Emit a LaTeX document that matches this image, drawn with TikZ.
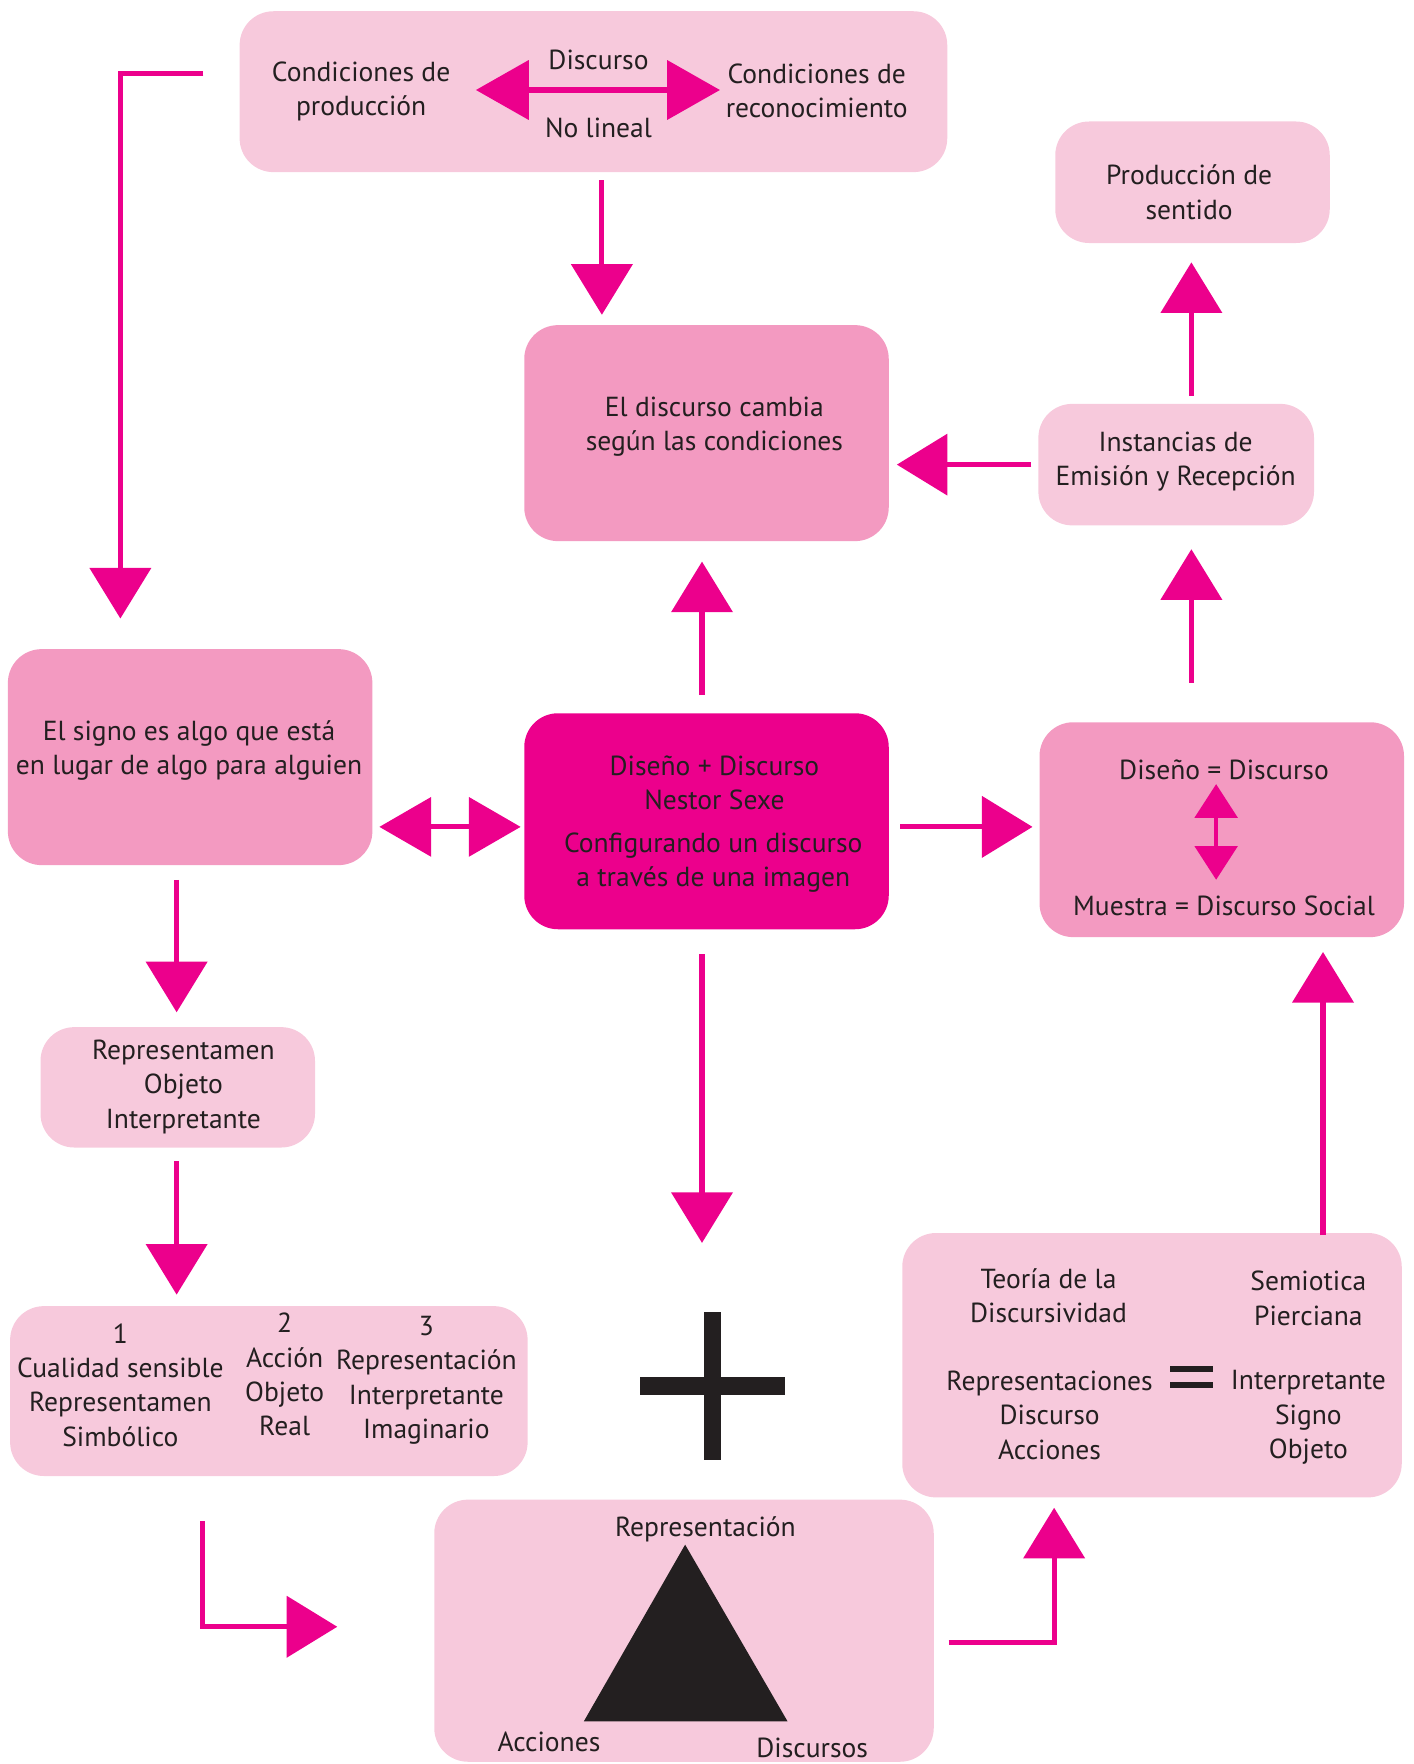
\documentclass[tikz,border=0pt]{standalone}
\usepackage{fontspec}
\setmainfont{PT Sans}
\usetikzlibrary{arrows.meta}
\definecolor{pinkL}{HTML}{F7C9DC}
\definecolor{pinkM}{HTML}{F39AC1}
\definecolor{magn}{HTML}{EC008C}
\definecolor{ink}{HTML}{231F20}
\begin{document}
\begin{tikzpicture}[x=1pt,y=-1pt,
  box/.style={draw=none,rounded corners=30pt,inner sep=0pt},
  boxL/.style={box,fill=pinkL},
  boxM/.style={box,fill=pinkM},
  txt/.style={text=ink,align=center,inner sep=0pt,yshift=-3pt,font=\fontsize{24.5}{30.5}\selectfont},
  arr/.style={draw=magn,line width=4.5pt,-{Triangle[length=45pt,width=54pt]}},
  darr/.style={draw=magn,line width=4.5pt,{Triangle[length=46pt,width=52pt]}-{Triangle[length=46pt,width=52pt]}},
]
\useasboundingbox (0,0) rectangle (1256,1568);

% boxes
\node[boxL,minimum width=629pt,minimum height=143pt] (top) at (527.5,81.5) {};
\node[boxM,minimum width=324pt,minimum height=192pt] (cambia) at (628,385) {};
\node[boxL,minimum width=244pt,minimum height=108pt] (sentido) at (1060,162) {};
\node[boxL,minimum width=245pt,minimum height=108pt] (inst) at (1045.5,413) {};
\node[boxM,minimum width=324pt,minimum height=192pt] (signo) at (169,673) {};
\node[box,fill=magn,minimum width=324pt,minimum height=192pt] (central) at (628,730) {};
\node[boxM,minimum width=324pt,minimum height=191pt] (diseno) at (1086,737.5) {};
\node[boxL,minimum width=244pt,minimum height=107pt] (repr) at (158,966.5) {};
\node[boxL,minimum width=460pt,minimum height=151pt] (tri) at (239,1236.5) {};
\node[boxL,minimum width=444pt,minimum height=235pt] (teoria) at (1024,1213.5) {};
\node[boxL,minimum width=444pt,minimum height=233pt] (accion) at (608,1449.5) {};
\node[inner sep=0pt,minimum width=129pt,minimum height=132pt] (plus) at (633.5,1232) {};

% texts
\node[txt] at (321,78) {Condiciones de\\producción};
\node[txt] at (532,50) {Discurso};
\node[txt] at (532,111) {No lineal};
\node[txt] at (726,78) {Condiciones de\\reconocimiento};
\node[txt] at (635,376) {El discurso cambia\\según las condiciones};
\node[txt] at (1057,168) {Producción de\\sentido};
\node[txt] at (1045,407) {Instancias de\\Emisión y Recepción};
\node[txt] at (168,664) {El signo es algo que está\\en lugar de algo para alguien};
\node[txt] at (635,693) {Diseño + Discurso\\Nestor Sexe};
\node[txt] at (634,764) {Configurando un discurso\\a través de una imagen};
\node[txt] (d1) at (1088,681) {Diseño = Discurso};
\node[txt] (d2) at (1088,802) {Muestra = Discurso Social};
\node[txt] at (163,963) {Representamen\\Objeto\\Interpretante};
\node[txt] at (107,1228) {1\\Cualidad sensible\\Representamen\\Simbólico};
\node[txt] at (253,1219) {2\\Acción\\Objeto\\Real};
\node[txt] at (379,1224) {3\\Representación\\Interpretante\\Imaginario};
\node[txt] at (932,1149) {Teoría de la\\Discursividad};
\node[txt] at (1163,1151) {Semiotica\\Pierciana};
\node[txt] at (933,1255) {Representaciones\\Discurso\\Acciones};
\node[txt] at (1163,1257) {Interpretante\\Signo\\Objeto};
\node[txt] at (627,1356) {Representación};
\node[txt] at (488,1545) {Acciones};
\node[txt] at (722,1551) {Discursos};

% plus sign, equals sign and triangle
\fill[ink] ([xshift=-7.5pt]plus.north) rectangle ([xshift=7.5pt]plus.south);
\fill[ink] ([yshift=8pt]plus.west) rectangle ([yshift=-8pt]plus.east);
\fill[ink] (1040,1214.5) rectangle (1078,1219.5);
\fill[ink] (1040,1228.5) rectangle (1078,1233.5);
\fill[ink] (609,1373) -- (519,1530) -- (700,1530) -- cycle;

% arrows inside boxes
\coordinate (nlL) at (423,80);
\coordinate (nlR) at (640,80);
\draw[draw=magn,line width=5pt,{Triangle[length=47pt,width=52pt]}-{Triangle[length=47pt,width=52pt]}] (nlL) -- (nlR);
\coordinate (dU) at (1081,697);
\coordinate (dD) at (1081,782);
\draw[draw=magn,line width=3pt,{Triangle[length=30pt,width=38pt]}-{Triangle[length=30pt,width=38pt]}] (dU) -- (dD);

% connectors
\draw[arr,shorten <=32pt,shorten >=27pt] (top.west |- 0,65) -| (signo.north -| 107,0);
\draw[arr,shorten <=7pt,shorten >=9pt] (top.south -| 535,0) -- (cambia.north -| 535,0);
\draw[arr,shorten <=7pt,shorten >=17pt] (inst.north -| 1059,0) -- (sentido.south -| 1059,0);
\draw[arr,shorten <=6pt,shorten >=7pt] (inst.west |- 0,413) -- (cambia.east |- 0,413);
\draw[arr,shorten <=35pt,shorten >=21pt] (diseno.north -| 1059,0) -- (inst.south -| 1059,0);
\draw[arr,shorten <=16pt,shorten >=18pt] (central.north -| 624,0) -- (cambia.south -| 624,0);
\draw[darr,shorten <=6pt,shorten >=3pt] (signo.east |- 0,735) -- (central.west |- 0,735);
\draw[arr,shorten <=10pt,shorten >=6pt] (central.east |- 0,735) -- (diseno.west |- 0,735);
\draw[arr,shorten <=13pt,shorten >=13pt] (signo.south -| 157,0) -- (repr.north -| 157,0);
\draw[arr,shorten <=12pt,shorten >=10pt] (repr.south -| 157,0) -- (tri.north -| 157,0);
\draw[arr,shorten <=22pt,shorten >=61pt] (central.south -| 624,0) -- (plus.north -| 624,0);
\draw[arr,shorten <=40pt,shorten >=86pt] (tri.south -| 180,0) |- (accion.west |- 0,1446);
\draw[arr,shorten <=13pt,shorten >=9pt] (accion.east |- 0,1460) -| (teoria.south -| 937,0);
\draw[arr,shorten <=-2pt,shorten >=13pt] (teoria.north -| 1176,0) -- (diseno.south -| 1176,0);
\end{tikzpicture}
\end{document}
